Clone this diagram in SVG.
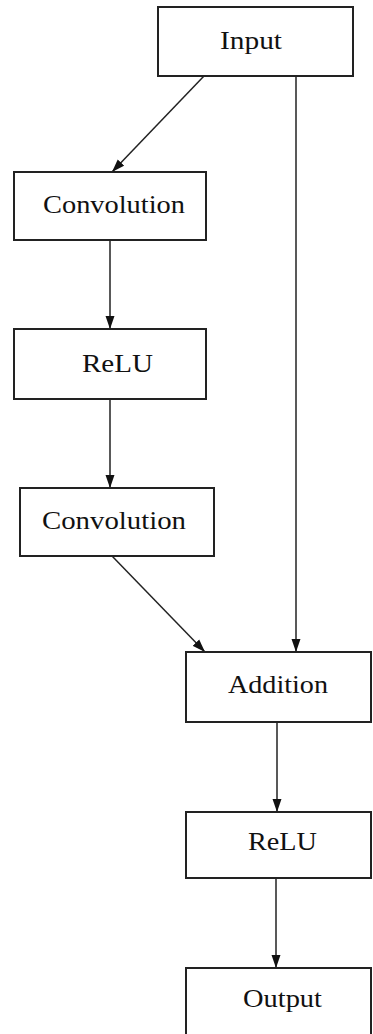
<svg xmlns="http://www.w3.org/2000/svg" width="373" height="1034" viewBox="0 0 373 1034">
  <style>
    .box { fill: #ffffff; stroke: #222222; stroke-width: 2; }
    .lbl { font-family: "Liberation Serif", "DejaVu Serif", serif; font-size: 25px; fill: #111111; text-anchor: middle; }
    .edge { fill: none; stroke: #222222; stroke-width: 1.5; marker-end: url(#head); }
  </style>
  <defs>
    <marker id="head" markerUnits="userSpaceOnUse" markerWidth="14" markerHeight="10" refX="13" refY="5" orient="auto">
      <path d="M0,0.5 L13,5 L0,9.5 Z" fill="#111111"/>
    </marker>
  </defs>
  <rect width="373" height="1034" fill="#ffffff"/>

  <g id="connectors">
    <line class="edge" x1="204" y1="76" x2="112" y2="172"/>
    <line class="edge" x1="296" y1="76" x2="296" y2="652"/>
    <line class="edge" x1="110" y1="240" x2="110" y2="329"/>
    <line class="edge" x1="110" y1="399" x2="110" y2="488"/>
    <line class="edge" x1="112" y1="556" x2="205" y2="652"/>
    <line class="edge" x1="277" y1="722" x2="277" y2="812"/>
    <line class="edge" x1="276" y1="878" x2="276" y2="968"/>
  </g>

  <g id="input">
    <rect class="box" x="158" y="7" width="195" height="69"/>
    <text class="lbl" x="251" y="49" textLength="62" lengthAdjust="spacingAndGlyphs">Input</text>
  </g>
  <g id="conv1">
    <rect class="box" x="14" y="172" width="192" height="68"/>
    <text class="lbl" x="114" y="213" textLength="142" lengthAdjust="spacingAndGlyphs">Convolution</text>
  </g>
  <g id="relu1">
    <rect class="box" x="14" y="329" width="192" height="70"/>
    <text class="lbl" x="117.5" y="372" textLength="71" lengthAdjust="spacingAndGlyphs">ReLU</text>
  </g>
  <g id="conv2">
    <rect class="box" x="20" y="488" width="194" height="68"/>
    <text class="lbl" x="114" y="529" textLength="144" lengthAdjust="spacingAndGlyphs">Convolution</text>
  </g>
  <g id="addition">
    <rect class="box" x="186" y="652" width="185" height="70"/>
    <text class="lbl" x="278" y="693" textLength="100" lengthAdjust="spacingAndGlyphs">Addition</text>
  </g>
  <g id="relu2">
    <rect class="box" x="186" y="812" width="185" height="66"/>
    <text class="lbl" x="282.5" y="850" textLength="69" lengthAdjust="spacingAndGlyphs">ReLU</text>
  </g>
  <g id="output">
    <rect class="box" x="186" y="968" width="185" height="80"/>
    <text class="lbl" x="282.5" y="1007" textLength="79" lengthAdjust="spacingAndGlyphs">Output</text>
  </g>
</svg>
